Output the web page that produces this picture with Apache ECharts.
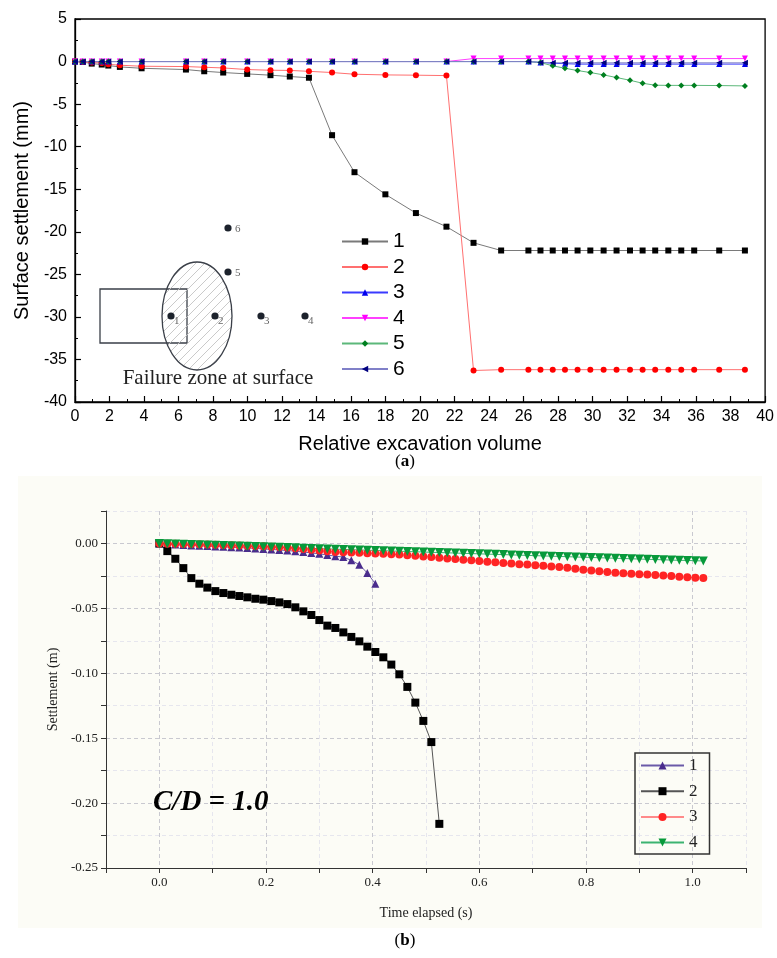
<!DOCTYPE html>
<html><head><meta charset="utf-8">
<script src="https://cdn.jsdelivr.net/npm/echarts@6/dist/echarts.min.js"></script>
<style>html,body{margin:0;padding:0;background:#fff}#c{width:777px;height:958px}</style>
</head><body><div id="c"></div>
<script>
// ---------- Panel (a) data ----------
const volA = [0, 0.45, 0.97, 1.55, 1.93, 2.6, 3.86, 6.43, 7.49, 8.59, 9.98, 11.33, 12.45, 13.56, 14.9, 16.2, 17.99, 19.76, 21.53, 23.1, 24.7, 26.28, 26.98, 27.69, 28.4, 29.13, 29.87, 30.64, 31.39, 32.17, 32.9, 33.63, 34.39, 35.14, 35.89, 37.34, 38.83];
const a1 = [0, -0.05, -0.24, -0.35, -0.47, -0.63, -0.79, -0.94, -1.14, -1.29, -1.45, -1.6, -1.76, -1.9, -8.65, -13.0, -15.6, -17.8, -19.4, -21.3, -22.2, -22.2, -22.2, -22.2, -22.2, -22.2, -22.2, -22.2, -22.2, -22.2, -22.2, -22.2, -22.2, -22.2, -22.2, -22.2, -22.2];
const a2 = [0, -0.04, -0.12, -0.16, -0.32, -0.43, -0.55, -0.59, -0.67, -0.75, -0.94, -1.02, -1.04, -1.15, -1.29, -1.49, -1.57, -1.6, -1.65, -36.3, -36.2, -36.2, -36.2, -36.2, -36.2, -36.2, -36.2, -36.2, -36.2, -36.2, -36.2, -36.2, -36.2, -36.2, -36.2, -36.2, -36.2];
const a3 = [0, 0, 0, 0, 0, 0, 0, 0, 0, 0, 0, 0, 0, 0, 0, 0, 0, 0, 0, 0, 0, 0, -0.1, -0.2, -0.25, -0.3, -0.3, -0.3, -0.3, -0.3, -0.3, -0.3, -0.3, -0.3, -0.3, -0.3, -0.3];
const a4 = [0, 0, 0, 0, 0, 0, 0, 0, 0, 0, 0, 0, 0, 0, 0, 0, 0, 0, 0, 0.35, 0.35, 0.35, 0.35, 0.35, 0.35, 0.35, 0.35, 0.35, 0.35, 0.35, 0.35, 0.35, 0.35, 0.35, 0.35, 0.35, 0.35];
const a5 = [0, 0, 0, 0, 0, 0, 0, 0, 0, 0, 0, 0, 0, 0, 0, 0, 0, 0, 0, 0, 0, 0, -0.12, -0.5, -0.79, -1.06, -1.29, -1.57, -1.88, -2.2, -2.55, -2.78, -2.8, -2.8, -2.8, -2.82, -2.86];
const a6 = [0, 0, 0, 0, 0, 0, 0, 0, 0, 0, 0, 0, 0, 0, 0, 0, 0, 0, 0, 0, 0, 0, -0.1, -0.15, -0.15, -0.15, -0.15, -0.15, -0.15, -0.15, -0.15, -0.15, -0.15, -0.15, -0.15, -0.15, -0.15];
const namesA = ['1', '2', '3', '4', '5', '6'];

// ---------- Panel (b) data ----------
const timeB = [0, 0.015, 0.03, 0.045, 0.06, 0.075, 0.09, 0.105, 0.12, 0.135, 0.15, 0.165, 0.18, 0.195, 0.21, 0.225, 0.24, 0.255, 0.27, 0.285, 0.3, 0.315, 0.33, 0.345, 0.36, 0.375, 0.39, 0.405, 0.42, 0.435, 0.45, 0.465, 0.48, 0.495, 0.51, 0.525, 0.54, 0.555, 0.57, 0.585, 0.6, 0.615, 0.63, 0.645, 0.66, 0.675, 0.69, 0.705, 0.72, 0.735, 0.75, 0.765, 0.78, 0.795, 0.81, 0.825, 0.84, 0.855, 0.87, 0.885, 0.9, 0.915, 0.93, 0.945, 0.96, 0.975, 0.99, 1.005, 1.02];
const b1 = [0, -0.0005, -0.0009, -0.0012, -0.0015, -0.0018, -0.002, -0.0023, -0.0026, -0.0029, -0.0032, -0.0035, -0.0038, -0.0042, -0.0046, -0.005, -0.0055, -0.006, -0.0066, -0.0073, -0.008, -0.0089, -0.0098, -0.0105, -0.013, -0.0164, -0.0228, -0.031];
const b2 = [0, -0.0059, -0.0118, -0.019, -0.0267, -0.031, -0.034, -0.0367, -0.0382, -0.0395, -0.0405, -0.0415, -0.0426, -0.0433, -0.0444, -0.0454, -0.0467, -0.0492, -0.0523, -0.0551, -0.059, -0.0633, -0.0651, -0.0685, -0.072, -0.0754, -0.0795, -0.0836, -0.0877, -0.0933, -0.1008, -0.1105, -0.1226, -0.1367, -0.153, -0.216];
const b3 = [0, -0.0002, -0.0003, -0.0004, -0.0005, -0.0006, -0.0008, -0.001, -0.0011, -0.0013, -0.0015,
  -0.0017, -0.002, -0.0022, -0.0025, -0.0028, -0.0032, -0.0037, -0.0042, -0.0048, -0.0055,
  -0.006, -0.0065, -0.0068, -0.007, -0.0072, -0.0075, -0.0077, -0.008, -0.0083, -0.0086,
  -0.009, -0.0095, -0.01, -0.0105, -0.011, -0.0115, -0.012, -0.0125, -0.013, -0.0135,
  -0.014, -0.0145, -0.015, -0.0155, -0.016, -0.0163, -0.0167, -0.0172, -0.0177, -0.0182,
  -0.0188, -0.0195, -0.0202, -0.0208, -0.0214, -0.022, -0.0225, -0.023, -0.0234, -0.0237,
  -0.024, -0.0243, -0.0246, -0.0251, -0.0256, -0.026, -0.0264, -0.0267];
const b4 = [0, -0.0002, -0.0004, -0.0006, -0.0008, -0.001, -0.0012, -0.0014, -0.0016, -0.0018, -0.002,
  -0.0022, -0.0024, -0.0026, -0.0028, -0.003, -0.0032, -0.0034, -0.0036, -0.0038, -0.004,
  -0.0042, -0.0044, -0.0046, -0.0048, -0.005, -0.0052, -0.0054, -0.0056, -0.0058, -0.006,
  -0.0062, -0.0064, -0.0066, -0.0068, -0.007, -0.0072, -0.0074, -0.0076, -0.0078, -0.008,
  -0.0082, -0.0084, -0.0086, -0.0088, -0.009, -0.0092, -0.0094, -0.0096, -0.0098, -0.01,
  -0.0102, -0.0104, -0.0106, -0.0108, -0.011, -0.0112, -0.0114, -0.0116, -0.0118, -0.012,
  -0.0122, -0.0124, -0.0126, -0.0128, -0.013, -0.0131, -0.0133, -0.0135];
const namesB = ['1', '2', '3', '4'];

// ---------- helpers ----------
const SANS = 'Liberation Sans';
const SERIF = 'Liberation Serif';
const CREAM = '#fcfcf6';
function pairs(xs, ys) { return ys.map((y, i) => [xs[i], y]); }

// hatch pattern for the failure zone
const hatch = document.createElement('canvas');
hatch.width = 9; hatch.height = 9;
(function () {
  const g = hatch.getContext('2d');
  g.strokeStyle = '#c4c4c4'; g.lineWidth = 0.9;
  g.beginPath(); g.moveTo(-1, 10); g.lineTo(10, -1); g.stroke();
})();

const chart = echarts.init(document.getElementById('c'), null, { renderer: 'canvas' });

const seriesA = [
  { d: a1, sym: 'rect', c: '#000000', lc: '#7a7a7a', rot: 0 },
  { d: a2, sym: 'circle', c: '#ff0000', lc: '#ff7070', rot: 0 },
  { d: a3, sym: 'triangle', c: '#0000ee', lc: '#3a3aff', rot: 0 },
  { d: a4, sym: 'triangle', c: '#ff00ff', lc: '#ff40ff', rot: 180 },
  { d: a5, sym: 'diamond', c: '#007f1f', lc: '#5cb87a', rot: 0 },
  { d: a6, sym: 'triangle', c: '#00007f', lc: '#8080c8', rot: 90 }
].map((s, i) => ({
  type: 'line', name: 'a' + namesA[i], xAxisIndex: 0, yAxisIndex: 0,
  data: pairs(volA, s.d), symbol: s.sym, symbolSize: 6, symbolRotate: s.rot, showAllSymbol: true,
  itemStyle: { color: s.c }, lineStyle: { color: s.lc, width: 1 }
}));

const seriesB = [
  { d: b1, sym: 'triangle', c: '#4a2c8c', lc: '#6b5aa8', rot: 0, sz: 8 },
  { d: b2, sym: 'rect', c: '#000000', lc: '#555555', rot: 0, sz: 8 },
  { d: b3, sym: 'circle', c: '#ff2424', lc: '#ff8a8a', rot: 0, sz: 8 },
  { d: b4, sym: 'triangle', c: '#07993a', lc: '#3cb371', rot: 180, sz: 9 }
].map((s, i) => ({
  type: 'line', name: 'b' + namesB[i], xAxisIndex: 1, yAxisIndex: 1,
  data: pairs(timeB, s.d), symbol: s.sym, symbolSize: s.sz, symbolRotate: s.rot, showAllSymbol: true,
  itemStyle: { color: s.c }, lineStyle: { color: s.lc, width: 1 }
}));

function near(v, step) { return Math.abs(Math.round(v / step) * step - v) < 1e-7; }

const option = {
  animation: false,
  backgroundColor: '#ffffff',
  grid: [
    { left: 75, top: 19, width: 691, height: 383, show: true, borderColor: '#000', borderWidth: 1.3, backgroundColor: 'transparent' },
    { left: 106, top: 511, width: 640, height: 357, show: true, borderWidth: 0, backgroundColor: CREAM }
  ],
  xAxis: [
    {
      gridIndex: 0, type: 'value', min: 0, max: 40, interval: 2,
      axisLine: { onZero: false, lineStyle: { color: '#000', width: 1.3 } },
      axisTick: { inside: true, length: 6, lineStyle: { color: '#000', width: 1.2 } },
      minorTick: { show: true, splitNumber: 2, length: 3, lineStyle: { color: '#000', width: 1 } },
      axisLabel: { fontFamily: SANS, fontSize: 16, color: '#000', margin: 7 },
      splitLine: { show: false },
      name: 'Relative excavation volume', nameLocation: 'middle', nameGap: 32,
      nameTextStyle: { fontFamily: SANS, fontSize: 20, color: '#000' }
    },
    {
      gridIndex: 1, type: 'value', min: -0.1, max: 1.1, interval: 0.1,
      axisLine: { onZero: false, lineStyle: { color: '#333', width: 1 } },
      axisTick: { inside: false, length: 5, lineStyle: { color: '#333' } },
      axisLabel: {
        fontFamily: SERIF, fontSize: 13, color: '#222', margin: 8, showMinLabel: true, showMaxLabel: true,
        formatter: v => near(v, 0.2) ? Math.abs(v).toFixed(1) : ''
      },
      splitLine: { show: true, lineStyle: { type: [4, 3], color: ['#e6e6ee', '#c9c9d0'], width: 1 } },
      name: 'Time elapsed (s)', nameLocation: 'middle', nameGap: 38,
      nameTextStyle: { fontFamily: SERIF, fontSize: 14, color: '#222' }
    }
  ],
  yAxis: [
    {
      gridIndex: 0, type: 'value', min: -40, max: 5, interval: 5,
      axisLine: { onZero: false, lineStyle: { color: '#000', width: 1.3 } },
      axisTick: { inside: true, length: 6, lineStyle: { color: '#000', width: 1.2 } },
      minorTick: { show: true, splitNumber: 2, length: 3, lineStyle: { color: '#000', width: 1 } },
      axisLabel: { fontFamily: SANS, fontSize: 16, color: '#000', margin: 8 },
      splitLine: { show: false },
      name: 'Surface settlement (mm)', nameLocation: 'middle', nameGap: 42,
      nameTextStyle: { fontFamily: SANS, fontSize: 20, color: '#000' }
    },
    {
      gridIndex: 1, type: 'value', min: -0.25, max: 0.025, interval: 0.025,
      axisLine: { onZero: false, lineStyle: { color: '#333', width: 1 } },
      axisTick: { inside: false, length: 5, lineStyle: { color: '#333' } },
      axisLabel: {
        fontFamily: SERIF, fontSize: 13, color: '#222', margin: 8,
        formatter: v => near(v, 0.05) ? (Math.abs(v) < 1e-9 ? '0.00' : v.toFixed(2)) : ''
      },
      splitLine: { show: true, lineStyle: { type: [4, 3], color: ['#c9c9d0', '#e6e6ee'], width: 1 } },
      name: 'Settlement (m)', nameLocation: 'middle', nameGap: 38,
      nameTextStyle: { fontFamily: SERIF, fontSize: 14, color: '#222' }
    }
  ],
  legend: [
    {
      data: namesA.map(n => 'a' + n), formatter: n => n.slice(1),
      orient: 'vertical', left: 341, top: 231, padding: 0,
      itemWidth: 46, itemHeight: 8, itemGap: 4.5,
      textStyle: { fontFamily: SANS, fontSize: 21, color: '#000', lineHeight: 21 }
    },
    {
      data: namesB.map(n => 'b' + n), formatter: n => n.slice(1),
      orient: 'vertical', left: 635, top: 753, padding: [4, 12, 3, 5],
      itemWidth: 43, itemHeight: 10, itemGap: 8.7,
      backgroundColor: 'transparent', borderColor: '#333', borderWidth: 1.5,
      textStyle: { fontFamily: SERIF, fontSize: 17, color: '#222', lineHeight: 17 }
    }
  ],
  series: seriesA.concat(seriesB),
  graphic: [
    { type: 'rect', z: -10, silent: true, shape: { x: 18, y: 476, width: 744, height: 452 }, style: { fill: CREAM } },
    { type: 'rect', z: 10, shape: { x: 100, y: 289, width: 87, height: 54 }, style: { fill: 'none', stroke: '#3a3f48', lineWidth: 1.3 } },
    { type: 'ellipse', z: 10, shape: { cx: 197, cy: 316, rx: 35, ry: 54 }, style: { fill: { type: 'pattern', image: hatch, repeat: 'repeat' }, stroke: '#3a3f48', lineWidth: 1.3 } },
    { type: 'circle', z: 11, shape: { cx: 171, cy: 316, r: 3.6 }, style: { fill: '#1c222c' } },
    { type: 'circle', z: 11, shape: { cx: 215, cy: 316, r: 3.6 }, style: { fill: '#1c222c' } },
    { type: 'circle', z: 11, shape: { cx: 261, cy: 316, r: 3.6 }, style: { fill: '#1c222c' } },
    { type: 'circle', z: 11, shape: { cx: 305, cy: 316, r: 3.6 }, style: { fill: '#1c222c' } },
    { type: 'circle', z: 11, shape: { cx: 228, cy: 272, r: 3.6 }, style: { fill: '#1c222c' } },
    { type: 'circle', z: 11, shape: { cx: 228, cy: 228, r: 3.6 }, style: { fill: '#1c222c' } },
    { type: 'text', z: 11, x: 174, y: 316, style: { text: '1', font: '11px Liberation Serif', fill: '#666' } },
    { type: 'text', z: 11, x: 218, y: 316, style: { text: '2', font: '11px Liberation Serif', fill: '#666' } },
    { type: 'text', z: 11, x: 264, y: 316, style: { text: '3', font: '11px Liberation Serif', fill: '#666' } },
    { type: 'text', z: 11, x: 308, y: 316, style: { text: '4', font: '11px Liberation Serif', fill: '#666' } },
    { type: 'text', z: 11, x: 235, y: 268, style: { text: '5', font: '11px Liberation Serif', fill: '#666' } },
    { type: 'text', z: 11, x: 235, y: 224, style: { text: '6', font: '11px Liberation Serif', fill: '#666' } },
    { type: 'text', z: 11, x: 218, y: 378, style: { text: 'Failure zone at surface', font: '21px Liberation Serif', fill: '#222', align: 'center', verticalAlign: 'middle' } },
    { type: 'text', z: 11, x: 405, y: 462, style: { text: '({b|a})', font: '17px Liberation Serif', fill: '#000', align: 'center', verticalAlign: 'middle', rich: { b: { fontWeight: 'bold', fontSize: 17, fontFamily: SERIF } } } },
    { type: 'text', z: 11, x: 153, y: 803, style: { text: 'C/D = 1.0', font: 'italic bold 29px Liberation Serif', fill: '#000', align: 'left', verticalAlign: 'middle' } },
    { type: 'text', z: 11, x: 405, y: 941, style: { text: '({b|b})', font: '17px Liberation Serif', fill: '#000', align: 'center', verticalAlign: 'middle', rich: { b: { fontWeight: 'bold', fontSize: 17, fontFamily: SERIF } } } }
  ]
};
chart.setOption(option);
</script>
</body></html>
